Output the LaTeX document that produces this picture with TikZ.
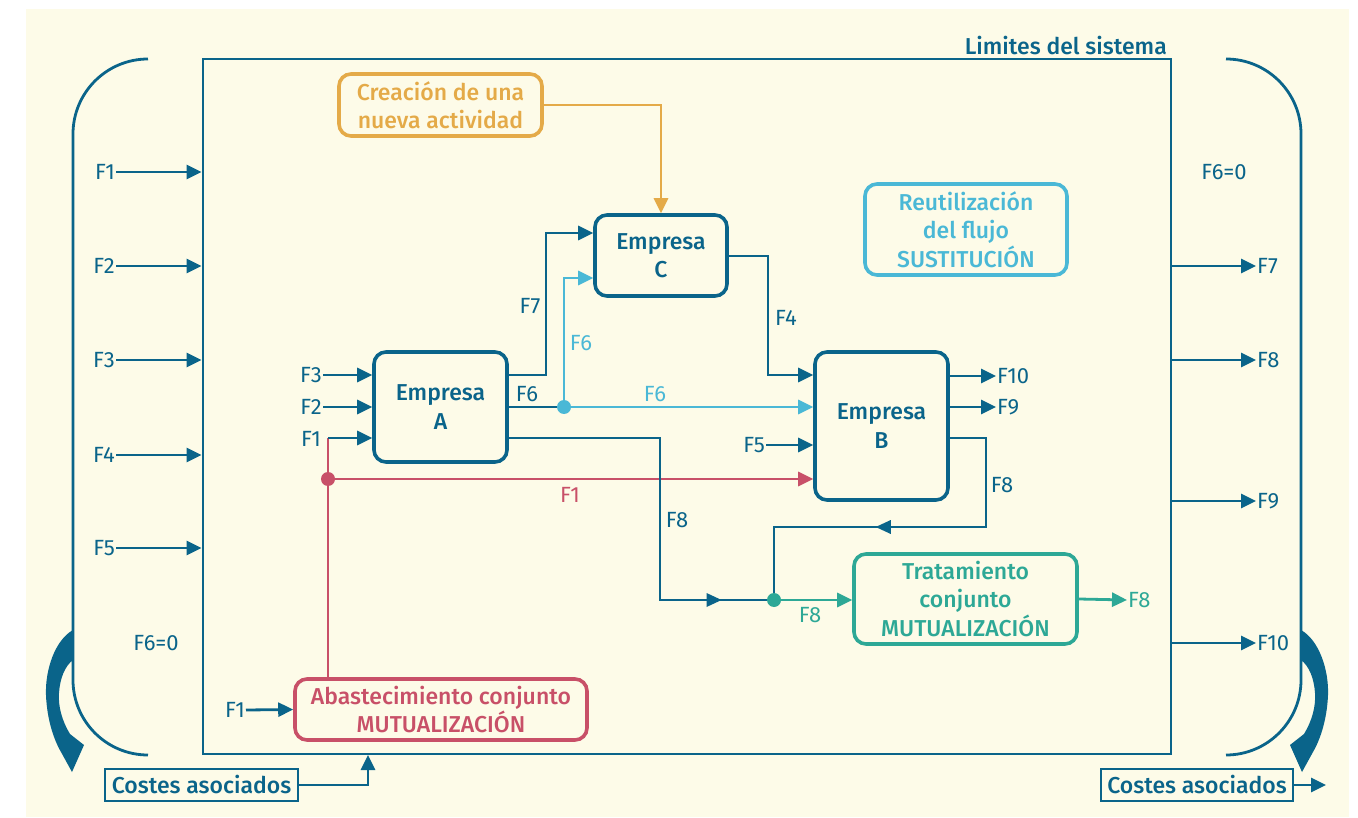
\documentclass[tikz,border=0pt]{standalone}
\usepackage{fontspec}
\setmainfont{Fira Sans}[BoldFont={Fira Sans Medium}]
\usetikzlibrary{arrows.meta,calc}
\definecolor{cream}{RGB}{253,251,232}
\definecolor{blu}{RGB}{10,100,138}
\definecolor{orng}{RGB}{228,170,72}
\definecolor{rd}{RGB}{200,80,104}
\definecolor{lblu}{RGB}{74,184,214}
\definecolor{grn}{RGB}{45,168,150}
\tikzset{
  flow/.style={line width=2.8pt},
  arr/.style={flow,-{Triangle[length=15pt,width=14pt]}},
  tip/.style={-{Triangle[length=15pt,width=14pt]}},
  lbl/.style={font=\fontsize{22}{26}\selectfont,inner sep=1pt},
  box/.style={draw,line width=3.6pt,rounded corners=12pt,align=center,
    font=\bfseries\fontsize{23}{28.5}\selectfont,inner sep=1pt},
  costbox/.style={draw=blu,line width=2.6pt,text=blu,inner sep=0pt,
    minimum height=32pt,font=\bfseries\fontsize{23}{26}\selectfont},
  jdot/.style={circle,fill,inner sep=0pt,minimum size=14pt},
}
\begin{document}
\begin{tikzpicture}[x=1pt,y=-1pt]
\useasboundingbox (0,0) rectangle (1358,818);
\fill[cream] (26,9) rectangle (1349,817);

% system boundary
\node[draw=blu,line width=2.8pt,minimum width=968pt,minimum height=695pt,inner sep=0pt] (sys) at (687,406.5) {};
\node[lbl,blu,font=\bfseries\fontsize{23}{26}\selectfont,anchor=south east] (lim) at (1168,56) {Limites del sistema};

% outer brackets
\draw[blu,line width=2.8pt,rounded corners=75pt] (148,59) -- (73,59) -- (73,755) -- (148,755);
\draw[blu,line width=2.8pt,rounded corners=75pt] (1226,59) -- (1301,59) -- (1301,755) -- (1226,755);

% cost feedback arrows
\fill[blu] (73,630) .. controls (55,640) and (45,670) .. (46,695)
  .. controls (47,720) and (54,740) .. (61,752) -- (72,772) -- (84,745)
  -- (70,734) .. controls (62,721) and (58,706) .. (59,693)
  .. controls (60,678) and (65,666) .. (73,660) -- cycle;
\fill[blu] (1301,630) .. controls (1319,640) and (1329,670) .. (1328,695)
  .. controls (1327,720) and (1320,740) .. (1313,752) -- (1302,772) -- (1290,745)
  -- (1304,734) .. controls (1312,721) and (1316,706) .. (1315,693)
  .. controls (1314,678) and (1309,666) .. (1301,660) -- cycle;

% inputs to the system
\foreach \n/\y in {1/172,2/266,3/360,4/455,5/548}{
  \node[lbl,blu,anchor=east] (in\n) at (116,\y) {F\n};
  \draw[arr,blu] (in\n.east) -- (in\n.east -| sys.west);
}
\node[lbl,blu] (f60l) at (156,643) {F6=0};

% outputs of the system
\foreach \n/\y in {7/266,8/360,9/501,10/643}{
  \node[lbl,blu,anchor=west] (out\n) at (1256,\y) {F\n};
  \draw[arr,blu] (out\n.west -| sys.east) -- (out\n.west);
}
\node[lbl,blu] (f60r) at (1224,172) {F6=0};

% costs
\node[costbox,minimum width=193pt] (cL) at (201.5,785) {Costes asociados};
\node[costbox,minimum width=192pt] (cR) at (1197,785) {Costes asociados};
\coordinate (cin) at (368,755);
\draw[arr,blu] (cL.east) -| (cin);
\coordinate (cout) at (1326,785);
\draw[arr,blu] (cR.east) -- (cout);

% companies
\node[box,draw=blu,text=blu,minimum width=133pt,minimum height=110pt] (A) at (440.5,407) {Empresa\\A};
\node[box,draw=blu,text=blu,minimum width=132pt,minimum height=81pt] (C) at (661,255.5) {Empresa\\C};
\node[box,draw=blu,text=blu,minimum width=133pt,minimum height=148pt] (B) at (881.5,426) {Empresa\\B};

% strategy boxes
\node[box,draw=orng,text=orng,minimum width=203pt,minimum height=62pt] (cre) at (440.5,105) {Creación de una\\nueva actividad};
\node[box,draw=lblu,text=lblu,minimum width=202pt,minimum height=91pt] (reu) at (966,229.5) {Reutilización\\del flujo\\SUSTITUCIÓN};
\node[box,draw=grn,text=grn,minimum width=223pt,minimum height=90pt] (tra) at (965.5,599) {Tratamiento\\conjunto\\MUTUALIZACIÓN};
\node[box,draw=rd,text=rd,minimum width=292pt,minimum height=61pt] (aba) at (441,709.5) {Abastecimiento conjunto\\MUTUALIZACIÓN};

% junction dots
\node[jdot,lblu] (d6) at (564,407) {};
\node[jdot,rd] (d1) at (328,479) {};
\node[jdot,grn] (d8) at (774,600) {};

% new activity feeds C
\draw[arr,orng] (cre.east) -| (C.north);

% inputs of A
\node[lbl,blu,anchor=east] (a3) at (323,375) {F3};
\node[lbl,blu,anchor=east] (a2) at (323,407) {F2};
\node[lbl,blu,anchor=east] (a1) at (322,439) {F1};
\draw[arr,blu] (a3.east) -- (a3.east -| A.west);
\draw[arr,blu] (a2.east) -- (a2.east -| A.west);

% joint supply
\node[lbl,blu,anchor=east] (s1) at (246,710) {F1};
\draw[arr,blu] (s1.east) -- (aba.west);
\coordinate (a1c) at (328,438);
\draw[flow,rd] (d1 |- aba.north) -- (a1c);
\draw[arr,blu] (a1c) -- (a1c -| A.west);
\draw[arr,rd] (d1) -- (d1 -| B.west);
\node[lbl,rd] (lf1) at (570,495) {F1};

% A to C (F7)
\coordinate (f7a) at (546,375);
\coordinate (f7b) at (546,233);
\draw[arr,blu] (f7a -| A.east) -- (f7a) -- (f7b) -- (f7b -| C.west);
\node[lbl,blu] (lf7) at (530,306) {F7};

% A to reuse (F6)
\draw[flow,blu] (d6 -| A.east) -- (d6);
\node[lbl,blu] (lf6a) at (527,394) {F6};
\coordinate (f6c) at (564,278);
\draw[arr,lblu] (d6) -- (f6c) -- (f6c -| C.west);
\draw[arr,lblu] (d6) -- (d6 -| B.west);
\node[lbl,lblu] (lf6b) at (581,343) {F6};
\node[lbl,lblu] (lf6c) at (655,394) {F6};

% A to joint treatment (F8)
\coordinate (f8a) at (660,438);
\coordinate (f8b) at (660,600);
\draw[flow,blu] (f8a -| A.east) -- (f8a) -- (f8b) -- (d8);
\draw[blu,tip,line width=0pt] (f8b) -- ($(f8b)!0.54!(d8)$);
\node[lbl,blu] (lf8a) at (677,520) {F8};

% C to B (F4)
\coordinate (f4a) at (768,256);
\coordinate (f4b) at (768,375);
\draw[arr,blu] (f4a -| C.east) -- (f4a) -- (f4b) -- (f4b -| B.west);
\node[lbl,blu] (lf4) at (786,318) {F4};

% F5 into B
\node[lbl,blu,anchor=east] (b5) at (766,445) {F5};
\draw[arr,blu] (b5.east) -- (b5.east -| B.west);

% outputs of B
\node[lbl,blu,anchor=west] (b10) at (996,376) {F10};
\node[lbl,blu,anchor=west] (b9) at (996,407) {F9};
\draw[arr,blu] (b10.west -| B.east) -- (b10.west);
\draw[arr,blu] (b9.west -| B.east) -- (b9.west);

% B to joint treatment (F8)
\coordinate (f8c) at (986,438);
\coordinate (f8d) at (986,527);
\coordinate (f8e) at (774,527);
\draw[flow,blu] (f8c -| B.east) -- (f8c) -- (f8d) -- (f8e) -- (d8);
\draw[blu,tip,line width=0pt] (f8d) -- ($(f8d)!0.52!(f8e)$);
\node[lbl,blu] (lf8b) at (1002,485) {F8};

% joint treatment
\draw[arr,grn] (d8) -- (tra.west |- d8);
\node[lbl,grn] (lf8c) at (810,615) {F8};
\node[lbl,grn,anchor=west] (t8) at (1127,600) {F8};
\draw[arr,grn] (tra.east) -- (t8.west);
\end{tikzpicture}
\end{document}
